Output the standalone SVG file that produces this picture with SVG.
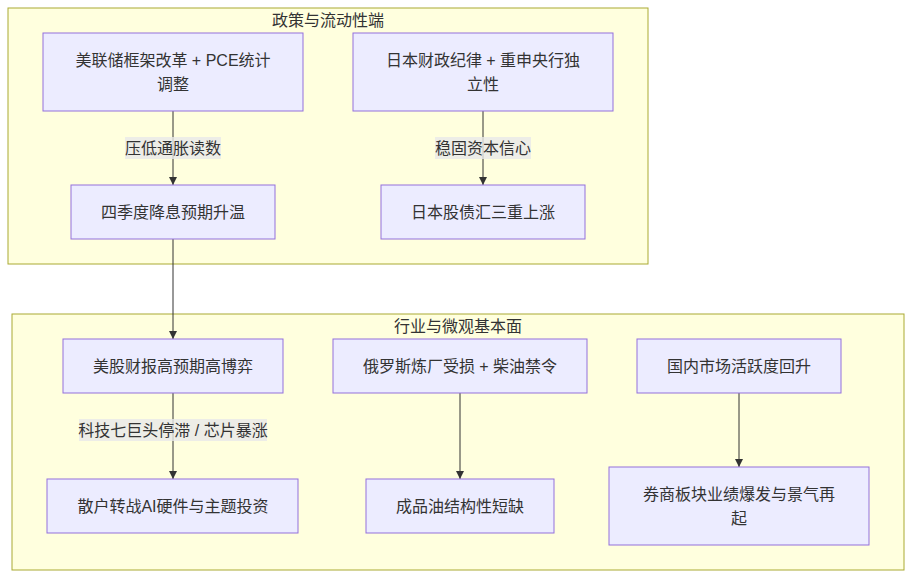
<svg xmlns="http://www.w3.org/2000/svg" width="912" height="578" viewBox="0 0 912 578">
<style>
text{font-family:"Liberation Sans","Noto Sans CJK SC",sans-serif;font-size:16px;fill:#333;text-anchor:middle;dominant-baseline:central}
.cl{fill:#ffffde;stroke:#aaaa33;stroke-width:1}
.nd{fill:#ececff;stroke:#9370db;stroke-width:1}
.ed{stroke:#333;stroke-width:1;fill:none;marker-end:url(#ah)}
.lb{fill:#e8e8e8;fill-opacity:0.8}
</style>
<defs>
<marker id="ah" viewBox="0 0 10 10" refX="10" refY="5" markerWidth="8" markerHeight="8" markerUnits="userSpaceOnUse" orient="auto">
<path d="M0,0 L10,5 L0,10 z" fill="#333"/>
</marker>
</defs>
<rect fill="#fff" x="0" y="0" width="912" height="578"/>
<g id="cluster-policy">
<rect class="cl" x="8" y="8" width="640" height="256"/>
<text x="328" y="20">政策与流动性端</text>
</g>
<g id="cluster-industry">
<rect class="cl" x="12" y="314" width="892" height="256"/>
<text x="458" y="326">行业与微观基本面</text>
</g>
<g id="edges">
<path class="ed" d="M173,111 V185"/>
<path class="ed" d="M483,111 V185"/>
<path class="ed" d="M173,239 V339"/>
<path class="ed" d="M173,393 V479"/>
<path class="ed" d="M460,393 V479"/>
<path class="ed" d="M739,393 V467"/>
<rect class="lb" x="125" y="137" width="96" height="22"/>
<text x="173" y="148">压低通胀读数</text>
<rect class="lb" x="435" y="137" width="96" height="22"/>
<text x="483" y="148">稳固资本信心</text>
<rect class="lb" x="79" y="419" width="188" height="22"/>
<text x="173" y="430">科技七巨头停滞 / 芯片暴涨</text>
</g>
<g id="A">
<rect class="nd" x="43" y="33" width="260" height="78"/>
<text x="173" y="60">美联储框架改革 + PCE统计</text>
<text x="173" y="84">调整</text>
</g>
<g id="B">
<rect class="nd" x="353" y="33" width="260" height="78"/>
<text x="483" y="60">日本财政纪律 + 重申央行独</text>
<text x="483" y="84">立性</text>
</g>
<g id="C">
<rect class="nd" x="71" y="185" width="204" height="54"/>
<text x="173" y="212">四季度降息预期升温</text>
</g>
<g id="D">
<rect class="nd" x="381" y="185" width="204" height="54"/>
<text x="483" y="212">日本股债汇三重上涨</text>
</g>
<g id="E">
<rect class="nd" x="63" y="339" width="220" height="54"/>
<text x="173" y="366">美股财报高预期高博弈</text>
</g>
<g id="F">
<rect class="nd" x="333" y="339" width="254" height="54"/>
<text x="460" y="366">俄罗斯炼厂受损 + 柴油禁令</text>
</g>
<g id="G">
<rect class="nd" x="637" y="339" width="204" height="54"/>
<text x="739" y="366">国内市场活跃度回升</text>
</g>
<g id="H">
<rect class="nd" x="47" y="479" width="251" height="54"/>
<text x="173" y="506">散户转战AI硬件与主题投资</text>
</g>
<g id="I">
<rect class="nd" x="366" y="479" width="188" height="54"/>
<text x="460" y="506">成品油结构性短缺</text>
</g>
<g id="J">
<rect class="nd" x="609" y="467" width="260" height="78"/>
<text x="739" y="494">券商板块业绩爆发与景气再</text>
<text x="739" y="518">起</text>
</g>
</svg>
